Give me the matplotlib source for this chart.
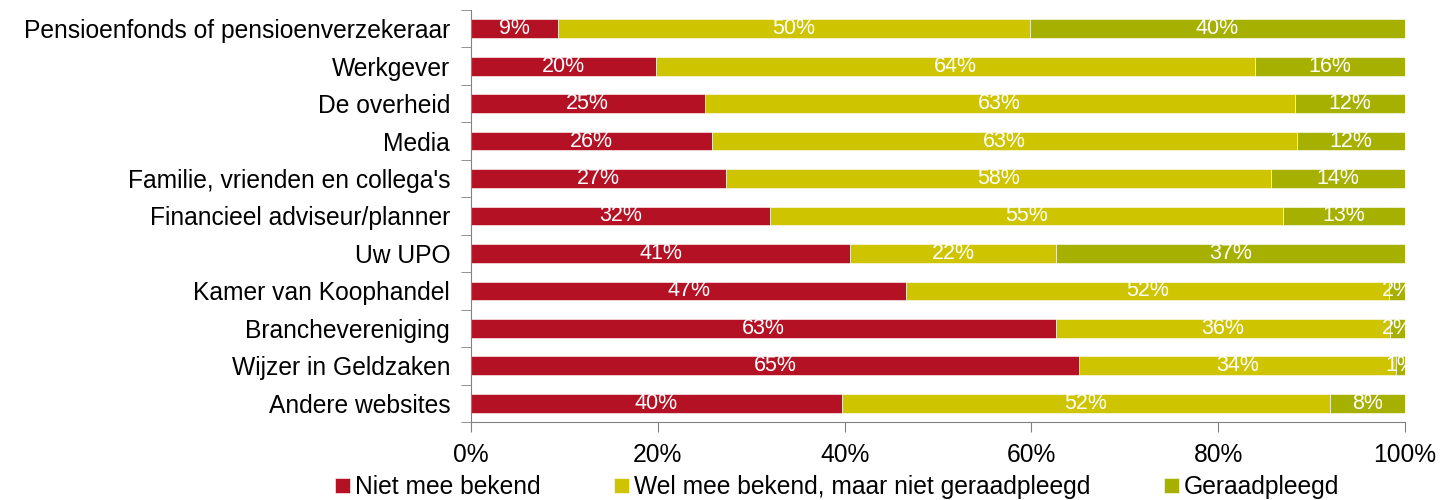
import matplotlib
matplotlib.use("Agg")
import matplotlib.pyplot as plt
import numpy as np

plt.rcParams['font.family'] = ['Liberation Sans', 'DejaVu Sans']

categories = ["Pensioenfonds of pensioenverzekeraar", "Werkgever", "De overheid", "Media",
              "Familie, vrienden en collega's", "Financieel adviseur/planner", "Uw UPO",
              "Kamer van Koophandel", "Branchevereniging", "Wijzer in Geldzaken",
              "Andere websites"]
niet_bekend = [9.3, 19.8, 25.0, 25.8, 27.3, 32.0, 40.6, 46.6, 62.6, 65.1, 39.7]
wel_bekend = [50.5, 64.1, 63.2, 62.6, 58.4, 54.9, 22.0, 51.7, 35.8, 33.9, 52.3]
geraadpleegd = [40.2, 16.1, 11.8, 11.6, 14.3, 13.1, 37.4, 1.7, 1.6, 1.0, 8.0]
series_names = ["Niet mee bekend", "Wel mee bekend, maar niet geraadpleegd", "Geraadpleegd"]
colors = ["#B41224", "#CEC400", "#A6B000"]
xticks = [0, 20, 40, 60, 80, 100]

fig = plt.figure(figsize=(14.4, 5), dpi=100)
ax = fig.add_axes([471/1440, 1-422/500, 934/1440, 412/500])

y = np.arange(len(categories))
left = np.zeros(len(categories))
for vals, name, c in zip([niet_bekend, wel_bekend, geraadpleegd], series_names, colors):
    vals = np.array(vals)
    ax.barh(y, vals, left=left, height=0.5, color=c, label=name,
            edgecolor="#ffffff", linewidth=0.4)
    for yi, l, v in zip(y, left, vals):
        ax.text(l + v/2, yi, "%d%%" % round(v), ha="center", va="center",
                color="white", fontsize=15.5)
    left += vals

ax.set_xlim(0, 100)
ax.set_ylim(len(categories) - 0.5, -0.5)
ax.set_yticks(y)
ax.set_yticklabels(categories, fontsize=17.7)
ax.set_yticks(np.arange(-0.5, len(categories)), minor=True)
ax.tick_params(axis="y", which="major", length=0, pad=15)
ax.tick_params(axis="y", which="minor", length=7, direction="out", color="#808080")
ax.set_xticks(xticks)
ax.set_xticklabels(["%d%%" % t for t in xticks], fontsize=17.7)
ax.tick_params(axis="x", length=7, direction="out", color="#808080", pad=8)

for s in ["top", "right"]:
    ax.spines[s].set_visible(False)
for s in ["left", "bottom"]:
    ax.spines[s].set_color("#808080")

fig.legend(loc="center", bbox_to_anchor=(837/1440, 1-487/500), ncol=3, frameon=False,
           fontsize=17.7, handlelength=0.6, handleheight=0.6, handletextpad=0.2,
           columnspacing=3.0)

fig.savefig("out.png", dpi=100)
